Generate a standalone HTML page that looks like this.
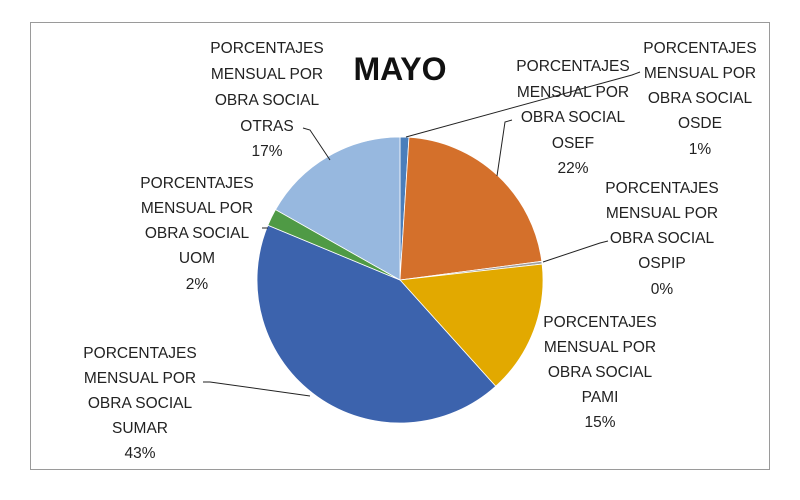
<!DOCTYPE html>
<html><head><meta charset="utf-8"><style>
html,body{margin:0;padding:0;background:#fff;}
svg{display:block;}
text{font-family:"Liberation Sans",sans-serif;font-size:15.5px;fill:#222;}
</style></head><body>
<svg id="s" width="800" height="500" xmlns="http://www.w3.org/2000/svg">
<rect x="0" y="0" width="800" height="500" fill="#fff"/>
<rect x="30.5" y="22.5" width="739" height="447" fill="none" stroke="#9a9a9a" stroke-width="1"/>
<g id="pie"></g>
<text x="400" y="80" text-anchor="middle" style="font-size:32px;font-weight:bold;fill:#111">MAYO</text>
<g stroke="#222" stroke-width="1" fill="none">
<polyline points="406,137 632,75 640,72"/>
<polyline points="497,176 505,122 512,120"/>
<polyline points="543,262 600,243 608,241"/>
<polyline points="330,160 310,130 303,128"/>
<polyline points="310,396 210,382 203,382"/>
<polyline points="268,228 262,228"/>
</g>
<g text-anchor="middle">
<text x="267"><tspan x="267" y="53">PORCENTAJES</tspan><tspan x="267" y="79">MENSUAL POR</tspan><tspan x="267" y="105">OBRA SOCIAL</tspan><tspan x="267" y="131">OTRAS</tspan><tspan x="267" y="156">17%</tspan></text>
<text><tspan x="573" y="71">PORCENTAJES</tspan><tspan x="573" y="97">MENSUAL POR</tspan><tspan x="573" y="122">OBRA SOCIAL</tspan><tspan x="573" y="148">OSEF</tspan><tspan x="573" y="173">22%</tspan></text>
<text><tspan x="700" y="53">PORCENTAJES</tspan><tspan x="700" y="78">MENSUAL POR</tspan><tspan x="700" y="103">OBRA SOCIAL</tspan><tspan x="700" y="128">OSDE</tspan><tspan x="700" y="154">1%</tspan></text>
<text><tspan x="197" y="188">PORCENTAJES</tspan><tspan x="197" y="213">MENSUAL POR</tspan><tspan x="197" y="238">OBRA SOCIAL</tspan><tspan x="197" y="263">UOM</tspan><tspan x="197" y="289">2%</tspan></text>
<text><tspan x="662" y="193">PORCENTAJES</tspan><tspan x="662" y="218">MENSUAL POR</tspan><tspan x="662" y="243">OBRA SOCIAL</tspan><tspan x="662" y="268">OSPIP</tspan><tspan x="662" y="294">0%</tspan></text>
<text><tspan x="600" y="327">PORCENTAJES</tspan><tspan x="600" y="352">MENSUAL POR</tspan><tspan x="600" y="377">OBRA SOCIAL</tspan><tspan x="600" y="402">PAMI</tspan><tspan x="600" y="427">15%</tspan></text>
<text><tspan x="140" y="358">PORCENTAJES</tspan><tspan x="140" y="383">MENSUAL POR</tspan><tspan x="140" y="408">OBRA SOCIAL</tspan><tspan x="140" y="433">SUMAR</tspan><tspan x="140" y="458">43%</tspan></text>
</g>
</svg>
<script>
(function(){
var cx=400,cy=280,r=143;
var sl=[[0,3.6,"#4a7ebb"],[3.6,82.5,"#d4702b"],[82.5,83.6,"#a0a0a0"],[83.6,138,"#e2a900"],[138,292.5,"#3c63ad"],[292.5,299.5,"#4f9a45"],[299.5,360,"#97b8df"]];
var g=document.getElementById("pie"),h="";
function p(a){a=a*Math.PI/180;return (cx+r*Math.sin(a)).toFixed(2)+","+(cy-r*Math.cos(a)).toFixed(2);}
sl.forEach(function(s){var large=(s[1]-s[0])>180?1:0;
h+='<path d="M'+cx+','+cy+' L'+p(s[0])+' A'+r+','+r+' 0 '+large+' 1 '+p(s[1])+' Z" fill="'+s[2]+'" stroke="#fff" stroke-width="0.8"/>';});
g.innerHTML=h;
})();
</script>
</body></html>
